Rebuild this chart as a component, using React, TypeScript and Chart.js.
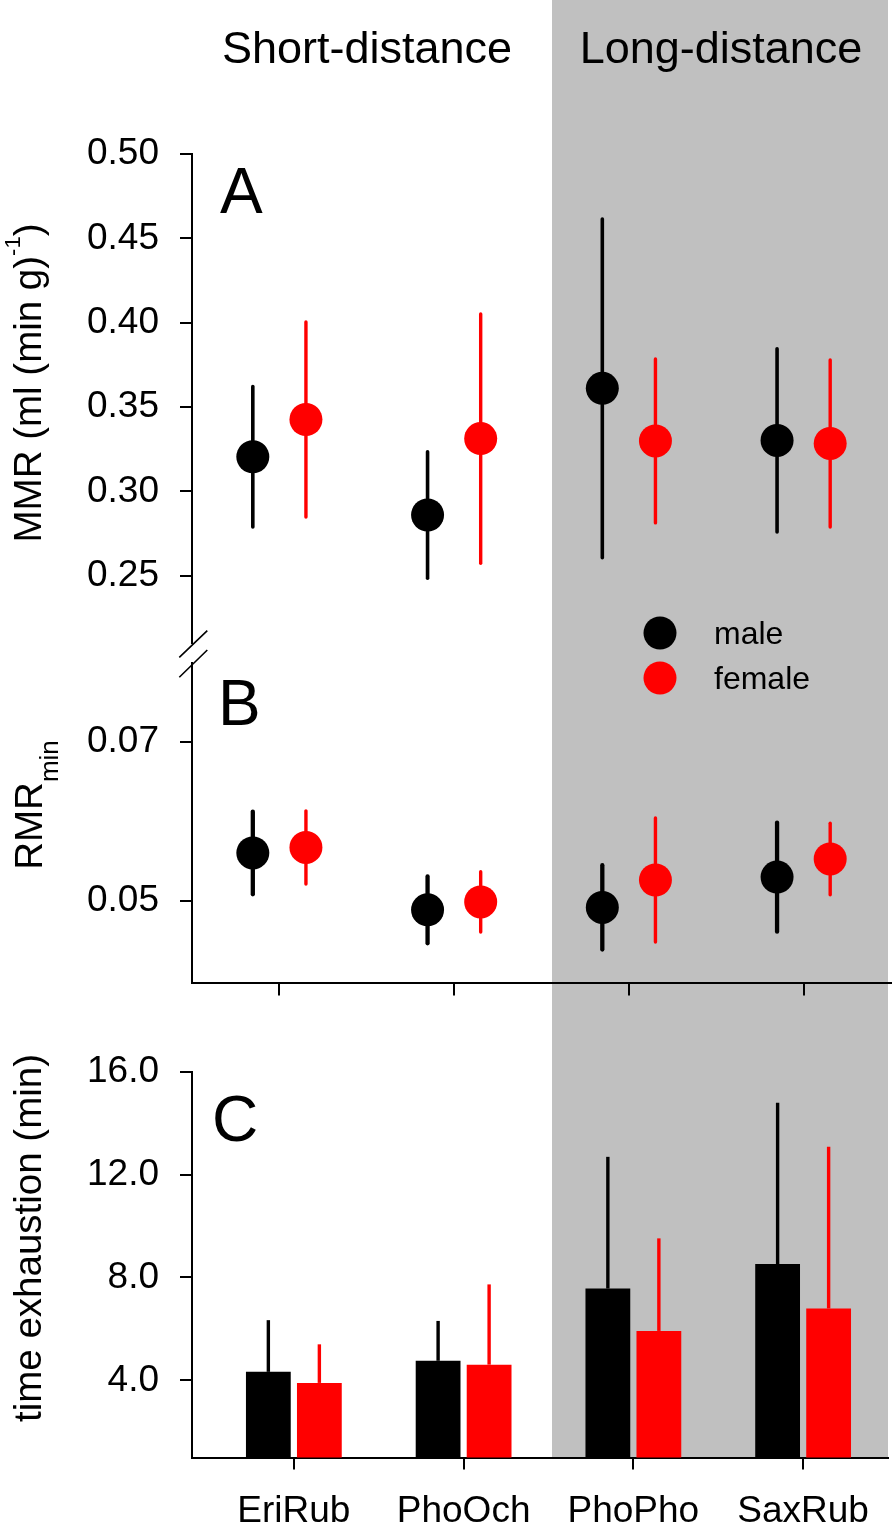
import React, { useEffect, useRef } from 'react';
import { Chart, registerables } from 'chart.js';

Chart.register(...registerables);

const FONT = "'Liberation Sans', Arial, Helvetica, sans-serif";
const W = 893;
const H = 1526;
const BLACK = '#000000';
const RED = '#ff0000';
const GRAY = '#c0c0c0';

// ---- data ----
const CATEGORIES = ['EriRub', 'PhoOch', 'PhoPho', 'SaxRub'];
const GROUP_LABELS = ['Short-distance', 'Long-distance'];
const SERIES_LABELS = ['male', 'female'];

const MMR_MALE = [0.3205, 0.286, 0.3611, 0.3302];
const MMR_MALE_SD = [0.0416, 0.0375, 0.1004, 0.0543];
const MMR_FEMALE = [0.3426, 0.3313, 0.3299, 0.3284];
const MMR_FEMALE_SD = [0.0578, 0.0739, 0.0486, 0.0495];

const RMR_MALE = [0.056, 0.04884, 0.04915, 0.05296];
const RMR_MALE_SD = [0.0052, 0.0042, 0.0053, 0.00686];
const RMR_FEMALE = [0.0567, 0.04984, 0.0526, 0.05525];
const RMR_FEMALE_SD = [0.0046, 0.0038, 0.0078, 0.0045];

const TIME_MALE = [4.33, 4.76, 7.57, 8.52];
const TIME_MALE_SD = [2.01, 1.55, 5.12, 6.27];
const TIME_FEMALE = [3.9, 4.61, 5.92, 6.79];
const TIME_FEMALE_SD = [1.5, 3.12, 3.6, 6.29];

const MMR_TICKS = [0.25, 0.3, 0.35, 0.4, 0.45, 0.5];
const MMR_TICK_LABELS = ['0.25', '0.30', '0.35', '0.40', '0.45', '0.50'];
const RMR_TICKS = [0.05, 0.07];
const RMR_TICK_LABELS = ['0.05', '0.07'];
const TIME_TICKS = [4, 8, 12, 16];
const TIME_TICK_LABELS = ['4.0', '8.0', '12.0', '16.0'];
const CAT_POS = [1, 2, 3, 4];

// ---- layout constants ----
const POINT_OFFSET = 0.152;
const AXIS_LEFT = 192;
const TITLE_SIZE = 38.5;

function drawRich(ctx: CanvasRenderingContext2D, parts: any[], baselineX: number, centerY: number) {
  ctx.save();
  ctx.translate(baselineX, centerY);
  ctx.rotate(-Math.PI / 2);
  ctx.textAlign = 'left';
  ctx.textBaseline = 'alphabetic';
  ctx.fillStyle = BLACK;
  const widths = parts.map((p) => {
    ctx.font = `${p.size}px ${FONT}`;
    return ctx.measureText(p.text).width;
  });
  const total = widths.reduce((a, b) => a + b, 0);
  let x = -total / 2;
  parts.forEach((p, i) => {
    ctx.font = `${p.size}px ${FONT}`;
    ctx.fillText(p.text, x, p.dy || 0);
    x += widths[i];
  });
  ctx.restore();
}

function drawText(ctx: CanvasRenderingContext2D, text: string, x: number, y: number, size: number, align: CanvasTextAlign = 'left') {
  ctx.save();
  ctx.font = `${size}px ${FONT}`;
  ctx.fillStyle = BLACK;
  ctx.textAlign = align;
  ctx.textBaseline = 'alphabetic';
  ctx.fillText(text, x, y);
  ctx.restore();
}

function errorBarPlugin(series: { mean: number[]; sd: number[]; color: string; width: number }[], upOnly: boolean) {
  const draw = (chart: any) => {
    const ctx = chart.ctx;
    const yScale = chart.scales.y;
    ctx.save();
    ctx.lineCap = upOnly ? 'butt' : 'round';
    series.forEach((s, d) => {
      const meta = chart.getDatasetMeta(d);
      meta.data.forEach((el: any, i: number) => {
        const top = yScale.getPixelForValue(s.mean[i] + s.sd[i]);
        const bottom = upOnly ? yScale.getPixelForValue(s.mean[i]) : yScale.getPixelForValue(s.mean[i] - s.sd[i]);
        ctx.strokeStyle = s.color;
        ctx.lineWidth = s.width;
        ctx.beginPath();
        ctx.moveTo(el.x, bottom);
        ctx.lineTo(el.x, top);
        ctx.stroke();
      });
    });
    ctx.restore();
  };
  return upOnly
    ? { id: 'errorBarsUp', afterDatasetsDraw: draw }
    : { id: 'errorBars', beforeDatasetsDraw: draw };
}

function yAxis(min: number, max: number, ticks: number[], labels: string[]) {
  return {
    type: 'linear',
    min,
    max,
    afterFit: (s: any) => {
      s.width = AXIS_LEFT;
    },
    afterBuildTicks: (s: any) => {
      s.ticks = ticks.map((v) => ({ value: v }));
    },
    ticks: {
      callback: (_v: any, i: number) => labels[i],
      font: { family: FONT, size: 37 },
      color: BLACK,
      padding: 21,
    },
    grid: { drawOnChartArea: false, drawTicks: true, tickLength: 12, color: BLACK, lineWidth: 2 },
    border: { display: true, color: BLACK, width: 2 },
  };
}

function scatterDatasets(male: number[], female: number[]) {
  return [
    {
      label: SERIES_LABELS[0],
      data: CAT_POS.map((p, i) => ({ x: p - POINT_OFFSET, y: male[i] })),
      backgroundColor: BLACK,
      borderColor: BLACK,
      borderWidth: 0,
      pointRadius: 16.5,
    },
    {
      label: SERIES_LABELS[1],
      data: CAT_POS.map((p, i) => ({ x: p + POINT_OFFSET, y: female[i] })),
      backgroundColor: RED,
      borderColor: RED,
      borderWidth: 0,
      pointRadius: 16.5,
    },
  ];
}

const commonPlugins = { legend: { display: false }, tooltip: { enabled: false }, title: { display: false } };

function configA(): any {
  return {
    type: 'scatter',
    data: { datasets: scatterDatasets(MMR_MALE, MMR_FEMALE) },
    options: {
      responsive: false,
      animation: false,
      events: [],
      devicePixelRatio: 1,
      layout: { autoPadding: false, padding: { left: 0, right: 2, top: 154, bottom: H - 643 } },
      plugins: commonPlugins,
      scales: {
        x: { type: 'linear', min: 0.5, max: 4.5, display: false },
        y: yAxis(0.2101, 0.5, MMR_TICKS, MMR_TICK_LABELS),
      },
    },
    plugins: [
      errorBarPlugin(
        [
          { mean: MMR_MALE, sd: MMR_MALE_SD, color: BLACK, width: 3.6 },
          { mean: MMR_FEMALE, sd: MMR_FEMALE_SD, color: RED, width: 3.4 },
        ],
        false
      ),
      {
        id: 'decorA',
        afterDraw(chart: any) {
          const ctx = chart.ctx;
          drawText(ctx, GROUP_LABELS[0], 367, 63, 45, 'center');
          drawText(ctx, GROUP_LABELS[1], 721, 63, 45, 'center');
          drawText(ctx, 'A', 220, 213, 64);
          drawRich(
            ctx,
            [
              { text: 'MMR (ml (min g)', size: TITLE_SIZE },
              { text: '-1', size: 22, dy: -21 },
              { text: ')', size: TITLE_SIZE },
            ],
            41,
            383
          );
          // legend
          const items = [
            { label: SERIES_LABELS[0], color: BLACK, y: 633 },
            { label: SERIES_LABELS[1], color: RED, y: 678 },
          ];
          items.forEach((it) => {
            ctx.save();
            ctx.fillStyle = it.color;
            ctx.beginPath();
            ctx.arc(660, it.y, 16.5, 0, Math.PI * 2);
            ctx.fill();
            ctx.restore();
            drawText(ctx, it.label, 714, it.y + 11, 32);
          });
        },
      },
    ],
  };
}

function configB(): any {
  return {
    type: 'scatter',
    data: { datasets: scatterDatasets(RMR_MALE, RMR_FEMALE) },
    options: {
      responsive: false,
      animation: false,
      events: [],
      devicePixelRatio: 1,
      layout: { autoPadding: false, padding: { left: 0, right: 2, top: 663, bottom: 0 } },
      plugins: commonPlugins,
      scales: {
        x: {
          type: 'linear',
          min: 0.5,
          max: 4.5,
          offset: false,
          afterFit: (s: any) => {
            s.height = H - 982.5;
          },
          afterBuildTicks: (s: any) => {
            s.ticks = CAT_POS.map((v) => ({ value: v }));
          },
          ticks: { display: false },
          grid: { drawOnChartArea: false, drawTicks: true, tickLength: 13, color: BLACK, lineWidth: 2, offset: false },
          border: { display: true, color: BLACK, width: 2 },
        },
        y: yAxis(0.0397, 0.0799, RMR_TICKS, RMR_TICK_LABELS),
      },
    },
    plugins: [
      errorBarPlugin(
        [
          { mean: RMR_MALE, sd: RMR_MALE_SD, color: BLACK, width: 4.3 },
          { mean: RMR_FEMALE, sd: RMR_FEMALE_SD, color: RED, width: 3.4 },
        ],
        false
      ),
      {
        id: 'decorB',
        afterDraw(chart: any) {
          const ctx = chart.ctx;
          drawText(ctx, 'B', 218, 725, 64);
          drawRich(
            ctx,
            [
              { text: 'RMR', size: TITLE_SIZE },
              { text: 'min', size: 26, dy: 16 },
            ],
            42,
            805
          );
          // axis break marks
          ctx.save();
          ctx.strokeStyle = BLACK;
          ctx.lineWidth = 1.6;
          ctx.beginPath();
          ctx.moveTo(179.3, 657.3);
          ctx.lineTo(207.3, 630.7);
          ctx.moveTo(179.3, 677.3);
          ctx.lineTo(207.3, 650);
          ctx.stroke();
          ctx.restore();
        },
      },
    ],
  };
}

function configC(): any {
  const barCommon = { borderWidth: 0, barPercentage: 0.878, categoryPercentage: 0.601 };
  return {
    type: 'bar',
    data: {
      datasets: [
        {
          label: SERIES_LABELS[0],
          data: CAT_POS.map((p, i) => ({ x: p, y: TIME_MALE[i] })),
          backgroundColor: BLACK,
          ...barCommon,
        },
        {
          label: SERIES_LABELS[1],
          data: CAT_POS.map((p, i) => ({ x: p, y: TIME_FEMALE[i] })),
          backgroundColor: RED,
          ...barCommon,
        },
      ],
    },
    options: {
      responsive: false,
      animation: false,
      events: [],
      devicePixelRatio: 1,
      layout: { autoPadding: false, padding: { left: 0, right: 5, top: 1071.7, bottom: 0 } },
      plugins: commonPlugins,
      scales: {
        x: {
          type: 'linear',
          min: 0.4,
          max: 4.5,
          offset: false,
          afterFit: (s: any) => {
            s.height = H - 1457.5;
          },
          afterBuildTicks: (s: any) => {
            s.ticks = CAT_POS.map((v) => ({ value: v }));
          },
          ticks: {
            callback: (_v: any, i: number) => CATEGORIES[i],
            font: { family: FONT, size: 37 },
            color: BLACK,
            padding: 20,
            maxRotation: 0,
            autoSkip: false,
          },
          grid: { drawOnChartArea: false, drawTicks: true, tickLength: 12, color: BLACK, lineWidth: 2, offset: false },
          border: { display: true, color: BLACK, width: 2 },
        },
        y: yAxis(1.0, 16.0, TIME_TICKS, TIME_TICK_LABELS),
      },
    },
    plugins: [
      errorBarPlugin(
        [
          { mean: TIME_MALE, sd: TIME_MALE_SD, color: BLACK, width: 3.4 },
          { mean: TIME_FEMALE, sd: TIME_FEMALE_SD, color: RED, width: 3.4 },
        ],
        true
      ),
      {
        id: 'decorC',
        afterDraw(chart: any) {
          const ctx = chart.ctx;
          drawText(ctx, 'C', 212, 1141, 64);
          drawRich(ctx, [{ text: 'time exhaustion (min)', size: TITLE_SIZE }], 41, 1238);
        },
      },
    ],
  };
}

export default function App() {
  const refA = useRef<HTMLCanvasElement>(null);
  const refB = useRef<HTMLCanvasElement>(null);
  const refC = useRef<HTMLCanvasElement>(null);

  useEffect(() => {
    const charts = [
      new Chart(refA.current as HTMLCanvasElement, configA()),
      new Chart(refB.current as HTMLCanvasElement, configB()),
      new Chart(refC.current as HTMLCanvasElement, configC()),
    ];
    return () => charts.forEach((c) => c.destroy());
  }, []);

  const canvasStyle: React.CSSProperties = { position: 'absolute', left: 0, top: 0, width: W, height: H };

  return (
    <div style={{ position: 'absolute', left: 0, top: 0, width: W, height: H, background: '#ffffff', overflow: 'hidden' }}>
      <div style={{ position: 'absolute', left: 552, top: 0, width: 336, height: 1458, background: GRAY }} />
      <canvas ref={refA} width={W} height={H} style={canvasStyle} />
      <canvas ref={refB} width={W} height={H} style={canvasStyle} />
      <canvas ref={refC} width={W} height={H} style={canvasStyle} />
    </div>
  );
}
